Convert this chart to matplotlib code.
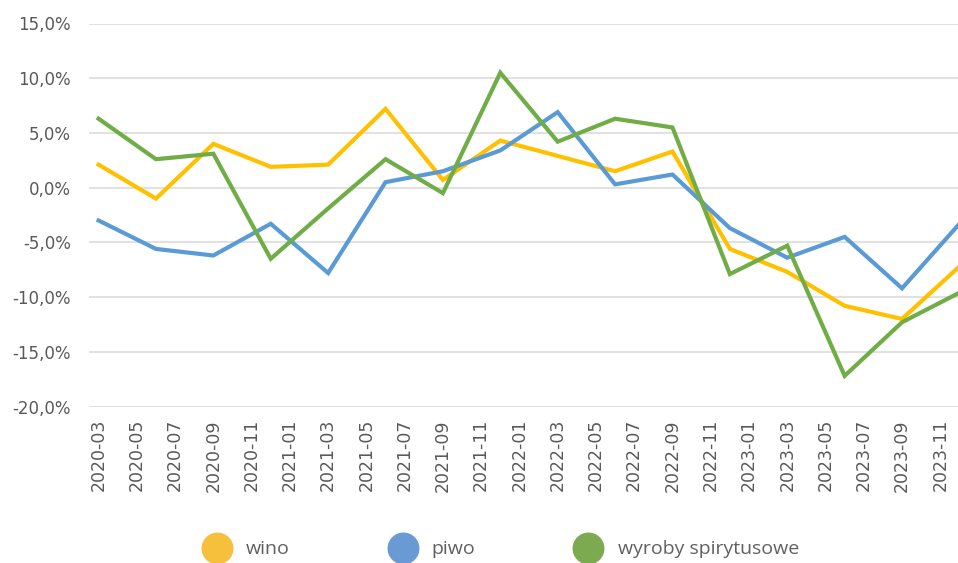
import matplotlib
matplotlib.use("Agg")
import matplotlib.pyplot as plt
from matplotlib.lines import Line2D
from matplotlib.ticker import FuncFormatter

# ---- data ----
quarters = ["2020-03", "2020-06", "2020-09", "2020-12", "2021-03", "2021-06", "2021-09", "2021-12",
            "2022-03", "2022-06", "2022-09", "2022-12", "2023-03", "2023-06", "2023-09", "2023-12"]
wino = [2.1, -1.0, 4.0, 1.9, 2.1, 7.2, 0.7, 4.3, 2.9, 1.5, 3.3, -5.6, -7.7, -10.8, -12.0, -7.2]
piwo = [-3.0, -5.6, -6.2, -3.3, -7.8, 0.5, 1.5, 3.4, 6.9, 0.3, 1.2, -3.7, -6.4, -4.5, -9.2, -3.3]
spirytus = [6.3, 2.6, 3.1, -6.5, -1.9, 2.6, -0.5, 10.5, 4.2, 6.3, 5.5, -7.9, -5.3, -17.2, -12.3, -9.6]
tick_labels = ["2020-03", "2020-05", "2020-07", "2020-09", "2020-11", "2021-01", "2021-03", "2021-05",
               "2021-07", "2021-09", "2021-11", "2022-01", "2022-03", "2022-05", "2022-07", "2022-09",
               "2022-11", "2023-01", "2023-03", "2023-05", "2023-07", "2023-09", "2023-11"]
series_names = ["wino", "piwo", "wyroby spirytusowe"]


def month_index(s):
    y, m = s.split("-")
    return (int(y) - 2020) * 12 + int(m) - 3


xq = [month_index(q) for q in quarters]
xt = [month_index(t) for t in tick_labels]

line_colors = ["#FFC000", "#5B9BD5", "#70AD47"]
legend_colors = ["#F6C03C", "#6A9AD3", "#7BAA51"]
text_gray = "#595959"

fig = plt.figure(figsize=(9.58, 5.63), dpi=100)
W, H = 958, 563
left_px, right_px = 89, 969
top_px, bot_px = 23.5, 406.5
ax = fig.add_axes([left_px / W, (H - bot_px) / H, (right_px - left_px) / W, (bot_px - top_px) / H])

for vals, c in zip([wino, piwo, spirytus], line_colors):
    ax.plot(xq, vals, color=c, lw=3.0, solid_joinstyle="miter", zorder=3)

ax.set_xlim(-0.5, 45.5)
ax.set_ylim(-20, 15)
ax.set_yticks(range(-20, 16, 5))
ax.yaxis.set_major_formatter(FuncFormatter(lambda v, p: f"{v:.1f}".replace(".", ",") + "%"))
ax.set_xticks(xt)
ax.set_xticklabels(tick_labels, rotation=90)
ax.grid(axis="y", color="#D9D9D9", lw=1.1)
ax.set_axisbelow(True)
for s in ax.spines.values():
    s.set_visible(False)
ax.tick_params(axis="both", length=0, colors=text_gray, labelsize=12)
ax.tick_params(axis="x", labelsize=12.5, pad=9)
ax.tick_params(axis="y", pad=13)

handles = [Line2D([], [], ls="", marker="o", markersize=22, markerfacecolor=c, markeredgecolor=c)
           for c in legend_colors]
leg = fig.legend(handles, series_names, loc="center", bbox_to_anchor=(0.525, 0.024), ncol=3,
                 frameon=False, prop={"family": "Open Sans", "size": 14}, labelcolor="#606060",
                 handletextpad=1.0, columnspacing=5.3, handlelength=1.0)

fig.savefig("out.png", dpi=100)
